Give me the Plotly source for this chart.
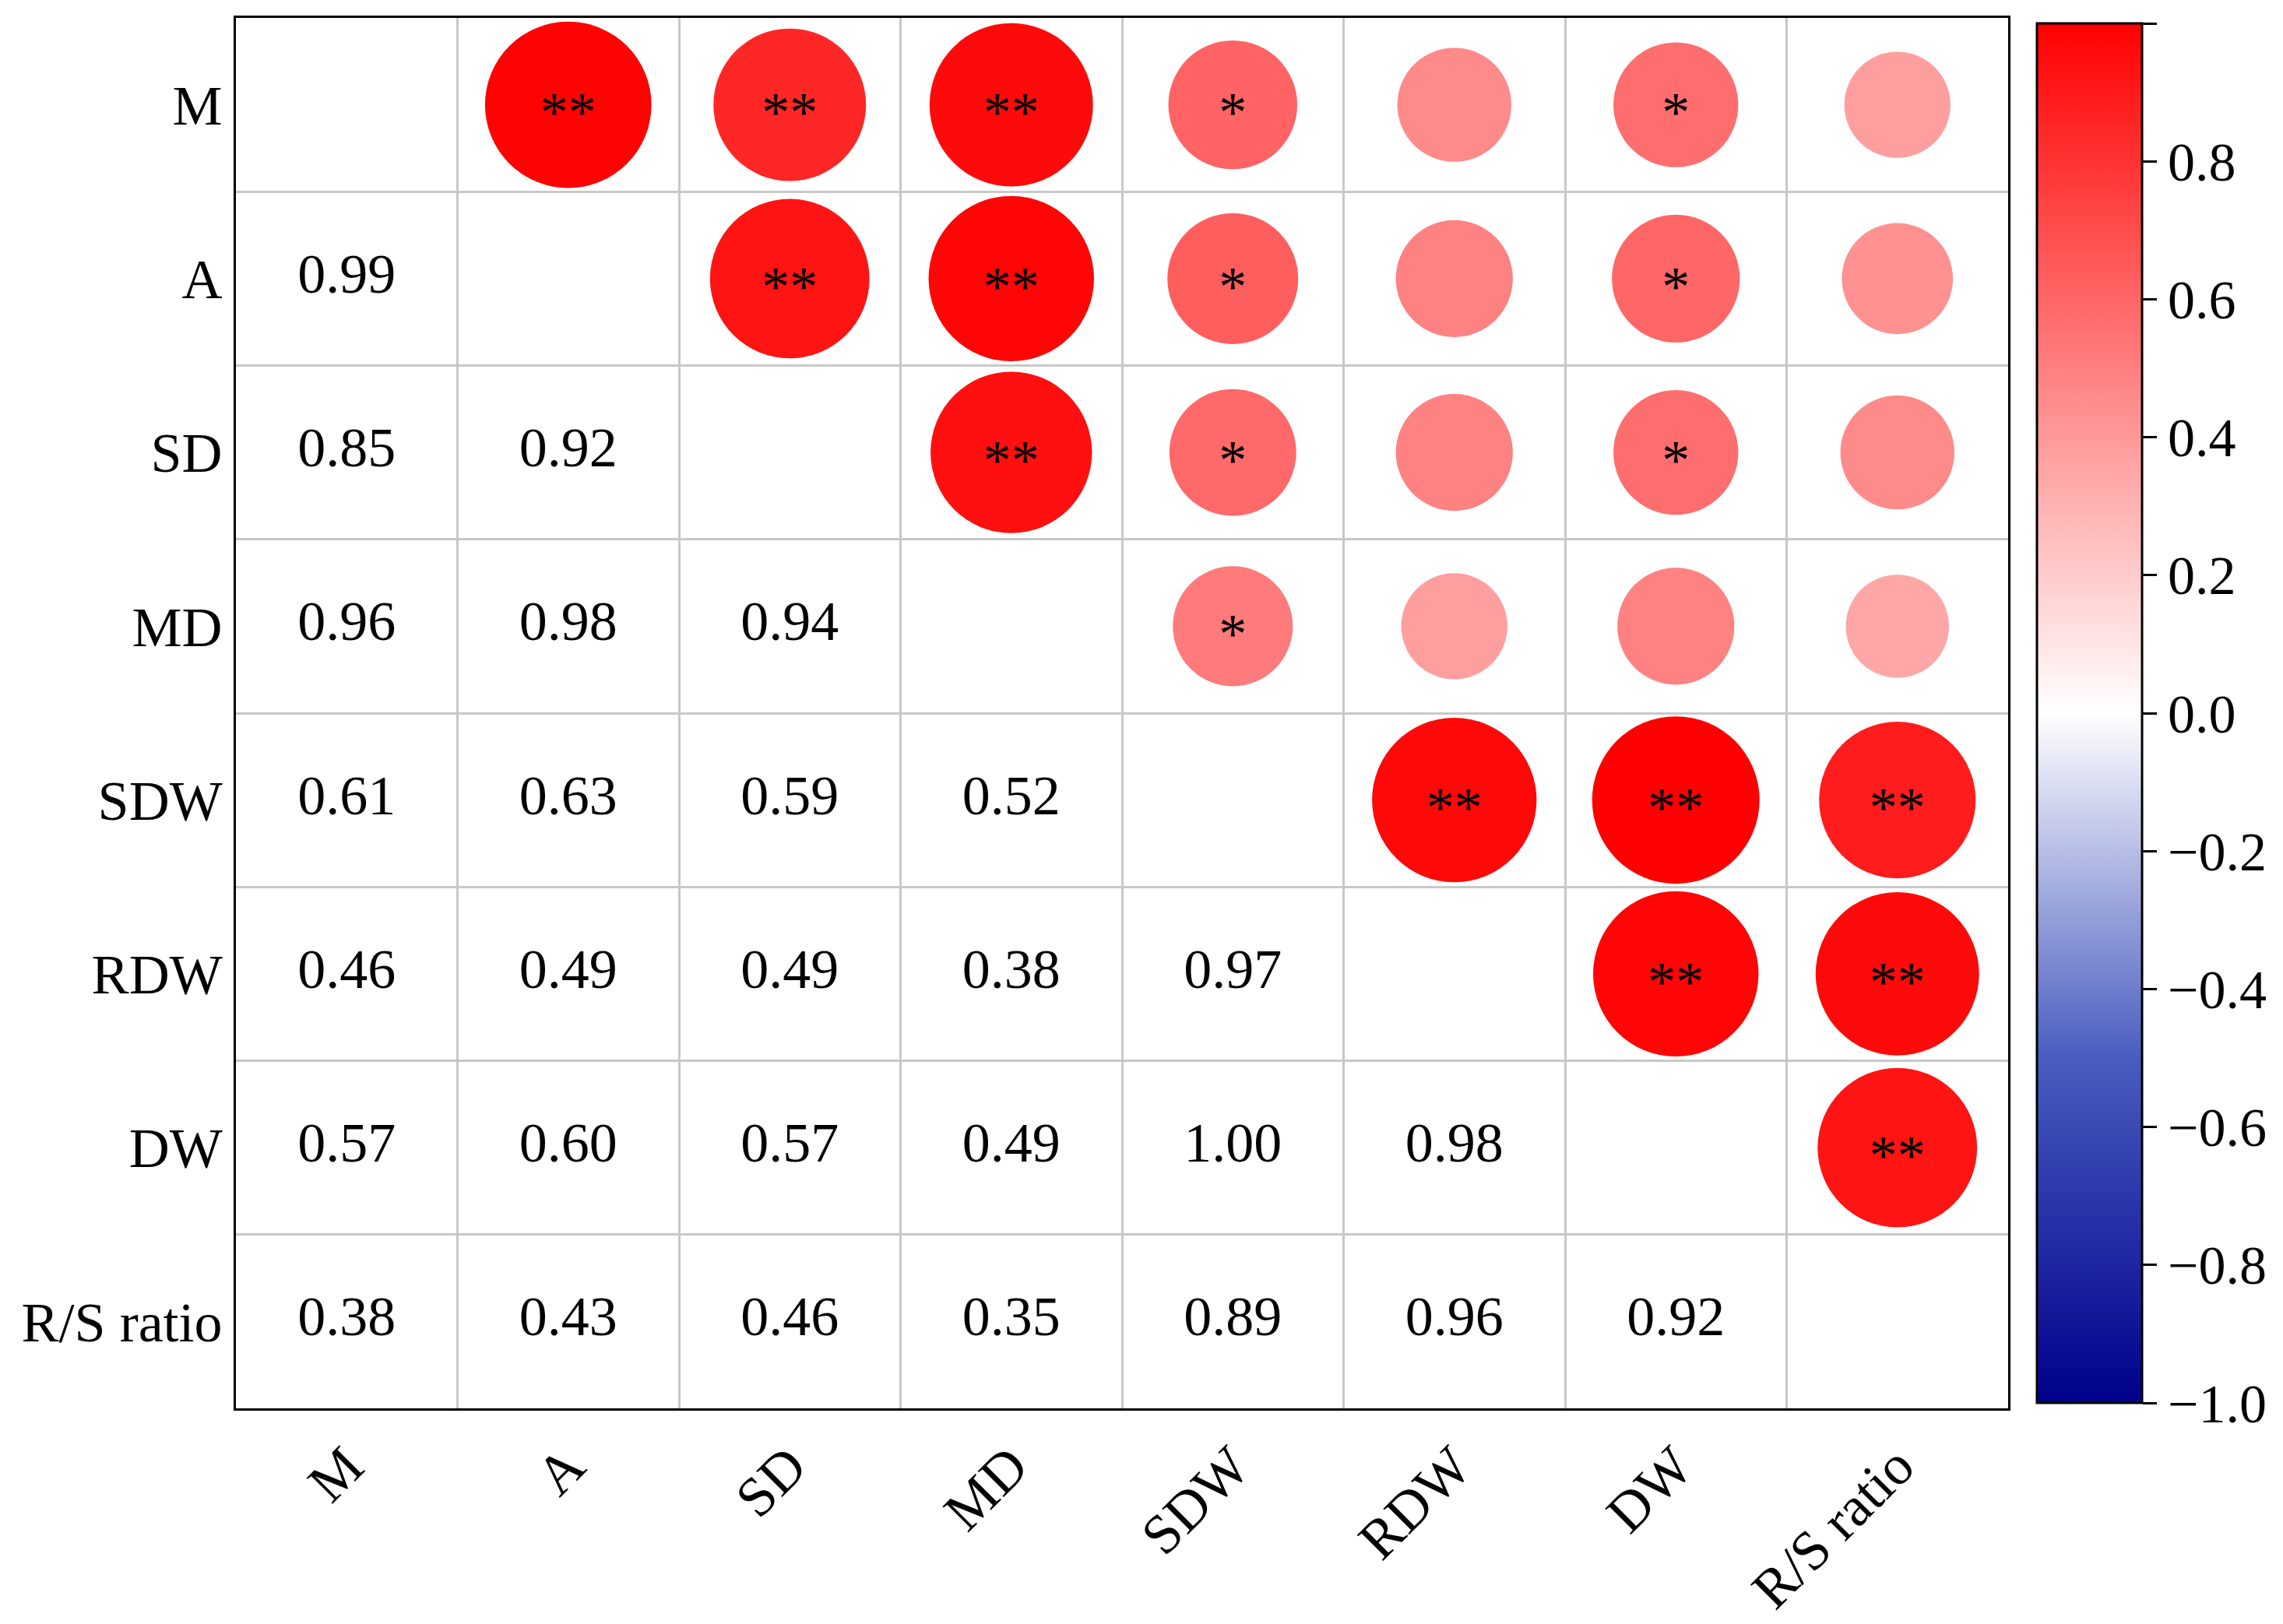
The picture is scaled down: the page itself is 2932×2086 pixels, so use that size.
import plotly.graph_objects as go

labels = ["M", "A", "SD", "MD", "SDW", "RDW", "DW", "R/S ratio"]
# lower-triangle correlation values, row by row
lower = [
    [],
    [0.99],
    [0.85, 0.92],
    [0.96, 0.98, 0.94],
    [0.61, 0.63, 0.59, 0.52],
    [0.46, 0.49, 0.49, 0.38, 0.97],
    [0.57, 0.60, 0.57, 0.49, 1.00, 0.98],
    [0.38, 0.43, 0.46, 0.35, 0.89, 0.96, 0.92],
]

FONT = "Liberation Serif"
n = len(labels)

tx, ty, tt = [], [], []
cx, cy, cv, cs = [], [], [], []
for i, row in enumerate(lower):
    for j, r in enumerate(row):
        tx.append(j + 0.5); ty.append(i + 0.5); tt.append(f"{r:.2f}")
        # mirrored circle in upper triangle
        cx.append(i + 0.5); cy.append(j + 0.5); cv.append(r)
        cs.append("**" if r >= 0.8 else ("*" if r >= 0.5 else ""))

fig = go.Figure()
fig.add_trace(go.Scatter(
    x=tx, y=ty, text=tt, mode="text",
    textfont=dict(family=FONT, size=72, color="black"),
    hoverinfo="skip", showlegend=False,
))
fig.add_trace(go.Scatter(
    x=cx, y=cy, mode="markers",
    marker=dict(
        size=[88 + 127 * abs(v) for v in cv],
        color=cv, cmin=-1, cmax=1, opacity=1,
        colorscale=[[0, "#00008b"], [0.25, "#4a5cc0"], [0.5, "#ffffff"], [1, "#ff0000"]],
        line=dict(width=0),
        colorbar=dict(
            x=1.012, xanchor="left", y=0.5, yanchor="middle",
            thickness=135, len=1792, lenmode="pixels",
            tickvals=[-1, -0.8, -0.6, -0.4, -0.2, 0, 0.2, 0.4, 0.6, 0.8, 1],
            ticktext=["−1.0", "−0.8", "−0.6", "−0.4", "−0.2", "0.0",
                      "0.2", "0.4", "0.6", "0.8", "1.0"],
            ticks="outside", ticklen=18, tickwidth=3, tickcolor="black",
            outlinecolor="black", outlinewidth=3,
            tickfont=dict(family=FONT, size=70, color="black"),
        ),
    ),
    hoverinfo="skip", showlegend=False,
))
fig.add_trace(go.Scatter(
    x=cx, y=[v + 0.07 for v in cy], mode="text", text=cs,
    textfont=dict(family=FONT, size=72, color="black"),
    hoverinfo="skip", showlegend=False,
))

axis_common = dict(
    range=[0, n], tickvals=[k + 0.5 for k in range(n)], ticktext=labels,
    showgrid=False, zeroline=False, showline=True, linecolor="black",
    linewidth=3, mirror=True, ticks="",
    tickfont=dict(family=FONT, size=72, color="black"),
    minor=dict(tickvals=list(range(1, n)), showgrid=True,
               gridcolor="#c8c8c8", gridwidth=3),
)
fig.update_xaxes(**axis_common, tickangle=-45)
fig.update_yaxes(**axis_common)
fig.update_yaxes(range=[n, 0])

fig.update_layout(
    width=2932, height=2086,
    margin=dict(l=295, r=361, t=15, b=231),
    plot_bgcolor="white", paper_bgcolor="white",
)
fig.write_html("out.html")
